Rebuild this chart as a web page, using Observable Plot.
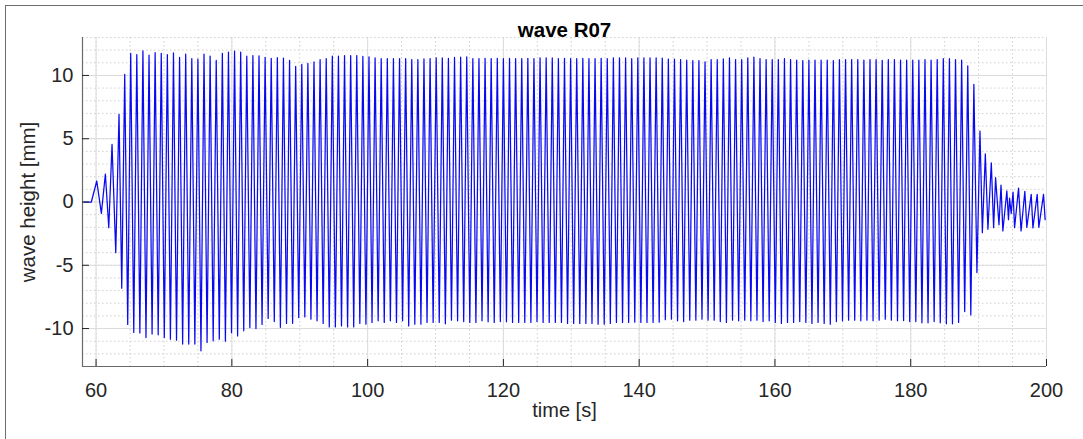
<!DOCTYPE html>
<html>
<head>
<meta charset="utf-8">
<script src="https://cdn.jsdelivr.net/npm/d3@7"></script>
<script src="https://cdn.jsdelivr.net/npm/@observablehq/plot@0.6"></script>
<style>
  html, body { margin: 0; padding: 0; background: #fff; }
  #wrap { position: relative; width: 1083px; height: 439px; overflow: hidden; background: #fff; }
  #border { position: absolute; left: 5px; top: 5px; width: 2000px; height: 2000px;
            border-top: 1.5px solid #6e6e6e; border-left: 1.5px solid #6e6e6e; pointer-events: none; }
  #wrap svg { position: absolute; left: 0; top: 0; }
</style>
</head>
<body>
<div id="wrap"><div id="border"></div></div>
<script>
// ---- chart data ----
const titleText = "wave R07";
const xLabel = "time [s]";
const yLabel = "wave height [mm]";
const xDomain = [58, 200];
const yDomain = [-13, 13];
const xTicks = [60, 80, 100, 120, 140, 160, 180, 200];
const yTicks = [-10, -5, 0, 5, 10];

// start-up of the wave train
const rampTimes   = [58.2, 59.3, 60.1, 60.78, 61.37, 61.87, 62.35, 62.9, 63.38, 63.78, 64.22, 64.66];
const rampHeights = [0, 0, 1.66, -0.9, 2.2, -2.03, 4.55, -4.0, 6.92, -6.81, 10.08, -9.68];

// wave crests
const crestTimes = [
  65.1, 66.0, 66.9, 67.8, 68.7, 69.6, 70.5, 71.4, 72.3, 73.2,
  74.1, 75.0, 75.9, 76.8, 77.7, 78.6, 79.5, 80.4, 81.3, 82.2,
  83.1, 84.0, 84.9, 85.8, 86.7, 87.6, 88.5, 89.4, 90.3, 91.2,
  92.1, 93.0, 93.9, 94.8, 95.7, 96.6, 97.5, 98.4, 99.3, 100.2,
  101.1, 102.0, 102.9, 103.8, 104.7, 105.6, 106.5, 107.4, 108.3, 109.2,
  110.1, 111.0, 111.9, 112.8, 113.7, 114.6, 115.5, 116.4, 117.3, 118.2,
  119.1, 120.0, 120.9, 121.8, 122.7, 123.6, 124.5, 125.4, 126.3, 127.2,
  128.1, 129.0, 129.9, 130.8, 131.7, 132.6, 133.5, 134.4, 135.3, 136.2,
  137.1, 138.0, 138.9, 139.8, 140.7, 141.6, 142.5, 143.4, 144.3, 145.2,
  146.1, 147.0, 147.9, 148.8, 149.7, 150.6, 151.5, 152.4, 153.3, 154.2,
  155.1, 156.0, 156.9, 157.8, 158.7, 159.6, 160.5, 161.4, 162.3, 163.2,
  164.1, 165.0, 165.9, 166.8, 167.7, 168.6, 169.5, 170.4, 171.3, 172.2,
  173.1, 174.0, 174.9, 175.8, 176.7, 177.6, 178.5, 179.4, 180.3, 181.2,
  182.1, 183.0, 183.9, 184.8, 185.7, 186.6, 187.5, 188.4, 189.3, 190.2
];
const crestHeights = [
  11.75, 11.65, 11.95, 11.6, 11.8, 11.75, 11.65, 11.78, 11.43, 11.68,
  11.34, 11.3, 11.68, 11.53, 11.2, 11.75, 11.85, 11.93, 11.85, 11.52,
  11.57, 11.55, 11.42, 11.35, 11.4, 11.37, 11.2, 10.72, 10.87, 10.95,
  11.07, 11.26, 11.34, 11.52, 11.52, 11.57, 11.57, 11.57, 11.5, 11.47,
  11.39, 11.34, 11.34, 11.34, 11.34, 11.34, 11.26, 11.26, 11.31, 11.34,
  11.39, 11.39, 11.36, 11.42, 11.44, 11.46, 11.34, 11.34, 11.36, 11.34,
  11.35, 11.34, 11.36, 11.34, 11.34, 11.35, 11.34, 11.39, 11.39, 11.38,
  11.34, 11.35, 11.34, 11.34, 11.36, 11.34, 11.34, 11.35, 11.34, 11.39,
  11.39, 11.38, 11.34, 11.39, 11.39, 11.38, 11.39, 11.37, 11.3, 11.3,
  11.26, 11.21, 11.18, 11.18, 11.07, 11.26, 11.26, 11.31, 11.39, 11.26,
  11.26, 11.39, 11.44, 11.34, 11.26, 11.26, 11.26, 11.34, 11.26, 11.21,
  11.18, 11.21, 11.21, 11.21, 11.21, 11.18, 11.26, 11.26, 11.26, 11.26,
  11.21, 11.26, 11.26, 11.2, 11.26, 11.26, 11.21, 11.21, 11.21, 11.21,
  11.26, 11.21, 11.26, 11.34, 11.34, 11.26, 11.21, 10.75, 9.29, 5.6
];

// wave troughs
const troughTimes = [
  65.55, 66.45, 67.35, 68.25, 69.15, 70.05, 70.95, 71.85, 72.75, 73.65,
  74.55, 75.45, 76.35, 77.25, 78.15, 79.05, 79.95, 80.85, 81.75, 82.65,
  83.55, 84.45, 85.35, 86.25, 87.15, 88.05, 88.95, 89.85, 90.75, 91.65,
  92.55, 93.45, 94.35, 95.25, 96.15, 97.05, 97.95, 98.85, 99.75, 100.65,
  101.55, 102.45, 103.35, 104.25, 105.15, 106.05, 106.95, 107.85, 108.75, 109.65,
  110.55, 111.45, 112.35, 113.25, 114.15, 115.05, 115.95, 116.85, 117.75, 118.65,
  119.55, 120.45, 121.35, 122.25, 123.15, 124.05, 124.95, 125.85, 126.75, 127.65,
  128.55, 129.45, 130.35, 131.25, 132.15, 133.05, 133.95, 134.85, 135.75, 136.65,
  137.55, 138.45, 139.35, 140.25, 141.15, 142.05, 142.95, 143.85, 144.75, 145.65,
  146.55, 147.45, 148.35, 149.25, 150.15, 151.05, 151.95, 152.85, 153.75, 154.65,
  155.55, 156.45, 157.35, 158.25, 159.15, 160.05, 160.95, 161.85, 162.75, 163.65,
  164.55, 165.45, 166.35, 167.25, 168.15, 169.05, 169.95, 170.85, 171.75, 172.65,
  173.55, 174.45, 175.35, 176.25, 177.15, 178.05, 178.95, 179.85, 180.75, 181.65,
  182.55, 183.45, 184.35, 185.25, 186.15, 187.05, 187.95, 188.85, 189.75
];
const troughHeights = [
  -10.31, -10.35, -10.71, -10.44, -10.5, -10.71, -10.84, -10.92, -11.23, -11.23,
  -11.23, -11.76, -11.1, -10.97, -10.84, -11.0, -10.33, -10.58, -10.18, -9.92,
  -10.0, -9.68, -9.2, -9.45, -9.9, -9.6, -9.59, -9.13, -9.08, -9.26,
  -9.39, -9.6, -9.87, -9.87, -9.79, -9.87, -9.87, -9.6, -9.66, -9.52,
  -9.39, -9.52, -9.39, -9.52, -9.39, -9.79, -9.66, -9.66, -9.52, -9.52,
  -9.52, -9.63, -9.34, -9.39, -9.45, -9.52, -9.52, -9.39, -9.47, -9.52,
  -9.45, -9.47, -9.52, -9.52, -9.52, -9.52, -9.45, -9.52, -9.52, -9.52,
  -9.52, -9.6, -9.6, -9.6, -9.6, -9.6, -9.66, -9.66, -9.6, -9.52,
  -9.52, -9.52, -9.5, -9.52, -9.52, -9.52, -9.5, -9.3, -9.26, -9.39,
  -9.45, -9.34, -9.34, -9.26, -9.34, -9.34, -9.45, -9.52, -9.34, -9.39,
  -9.34, -9.39, -9.34, -9.45, -9.39, -9.52, -9.6, -9.52, -9.52, -9.45,
  -9.52, -9.6, -9.52, -9.6, -9.66, -9.45, -9.39, -9.34, -9.34, -9.39,
  -9.34, -9.39, -9.34, -9.26, -9.34, -9.39, -9.37, -9.45, -9.45, -9.55,
  -9.55, -9.45, -9.55, -9.63, -9.63, -9.52, -8.66, -8.93, -5.58
];

// decay / reflections after the wave train
const tailTimes = [
  190.55, 190.99, 191.37, 191.87, 192.21, 192.5, 193.0, 193.3, 193.57, 194.16,
  194.4, 194.56, 194.8, 195.07, 195.3, 195.88, 196.25, 196.81, 197.1, 197.75,
  198.0, 198.63, 198.87, 199.56, 199.8
];
const tailHeights = [
  -2.42, 3.8, -2.16, 3.1, -2.03, 1.92, -1.8, 1.34, -2.29, 0.87,
  -1.4, 0.3, -0.9, 0.79, -2.03, 1.1, -2.29, 0.84, -2.0, 0.6,
  -2.05, 0.6, -2.0, 0.6, -1.4
];

// ---- build the series ----
const wave = [];
const add = (ts, hs) => ts.forEach((t, i) => wave.push({t, h: hs[i]}));
add(rampTimes, rampHeights);
add(crestTimes, crestHeights);
add(troughTimes, troughHeights);
add(tailTimes, tailHeights);
wave.sort((a, b) => a.t - b.t);

const xMinor = d3.range(60, 201, 5);
const yMinor = d3.range(-13, 14, 1);

const font = "'Liberation Sans', Arial, Helvetica, sans-serif";
const ink = "#262626";

const chart = Plot.plot({
  width: 1083,
  height: 439,
  marginLeft: 82,
  marginRight: 37,
  marginTop: 37,
  marginBottom: 73,
  style: {fontFamily: font, fontSize: "20px", color: ink, background: "transparent", overflow: "visible"},
  x: {domain: xDomain, label: null},
  y: {domain: yDomain, label: null},
  marks: [
    Plot.gridX(xMinor, {stroke: "#cfcfcf", strokeOpacity: 1, strokeWidth: 1, strokeDasharray: "1.5,2.5"}),
    Plot.gridY(yMinor, {stroke: "#cfcfcf", strokeOpacity: 1, strokeWidth: 1, strokeDasharray: "1.5,2.5"}),
    Plot.gridX(xTicks, {stroke: "#dcdcdc", strokeOpacity: 1, strokeWidth: 1}),
    Plot.gridY(yTicks, {stroke: "#dcdcdc", strokeOpacity: 1, strokeWidth: 1}),
    Plot.line(wave, {x: "t", y: "h", stroke: "#0a0af0", strokeWidth: 1.25}),
    Plot.ruleY([yDomain[0]], {stroke: "#6a6a6a", strokeWidth: 1.2}),
    Plot.ruleX([xDomain[0]], {stroke: "#6a6a6a", strokeWidth: 1.2}),
    Plot.axisX({ticks: xTicks, tickSize: -7, tickPadding: 23, stroke: ink, fill: ink, fontSize: 20, tickFormat: d => String(d)}),
    Plot.axisY({ticks: yTicks, tickSize: -7, tickPadding: 16, stroke: ink, fill: ink, fontSize: 20, tickFormat: d => String(d)}),
    Plot.text([titleText], {frameAnchor: "top", dy: -15, fontWeight: "bold", fontSize: 20.5, fill: "#000"}),
    Plot.text([xLabel], {frameAnchor: "bottom", dy: 50, fontSize: 20, fill: ink}),
    Plot.text([yLabel], {frameAnchor: "left", dx: -54, rotate: -90, textAnchor: "middle", fontSize: 20.5, fill: ink})
  ]
});

document.getElementById("wrap").insertBefore(chart, document.getElementById("border"));
</script>
</body>
</html>
